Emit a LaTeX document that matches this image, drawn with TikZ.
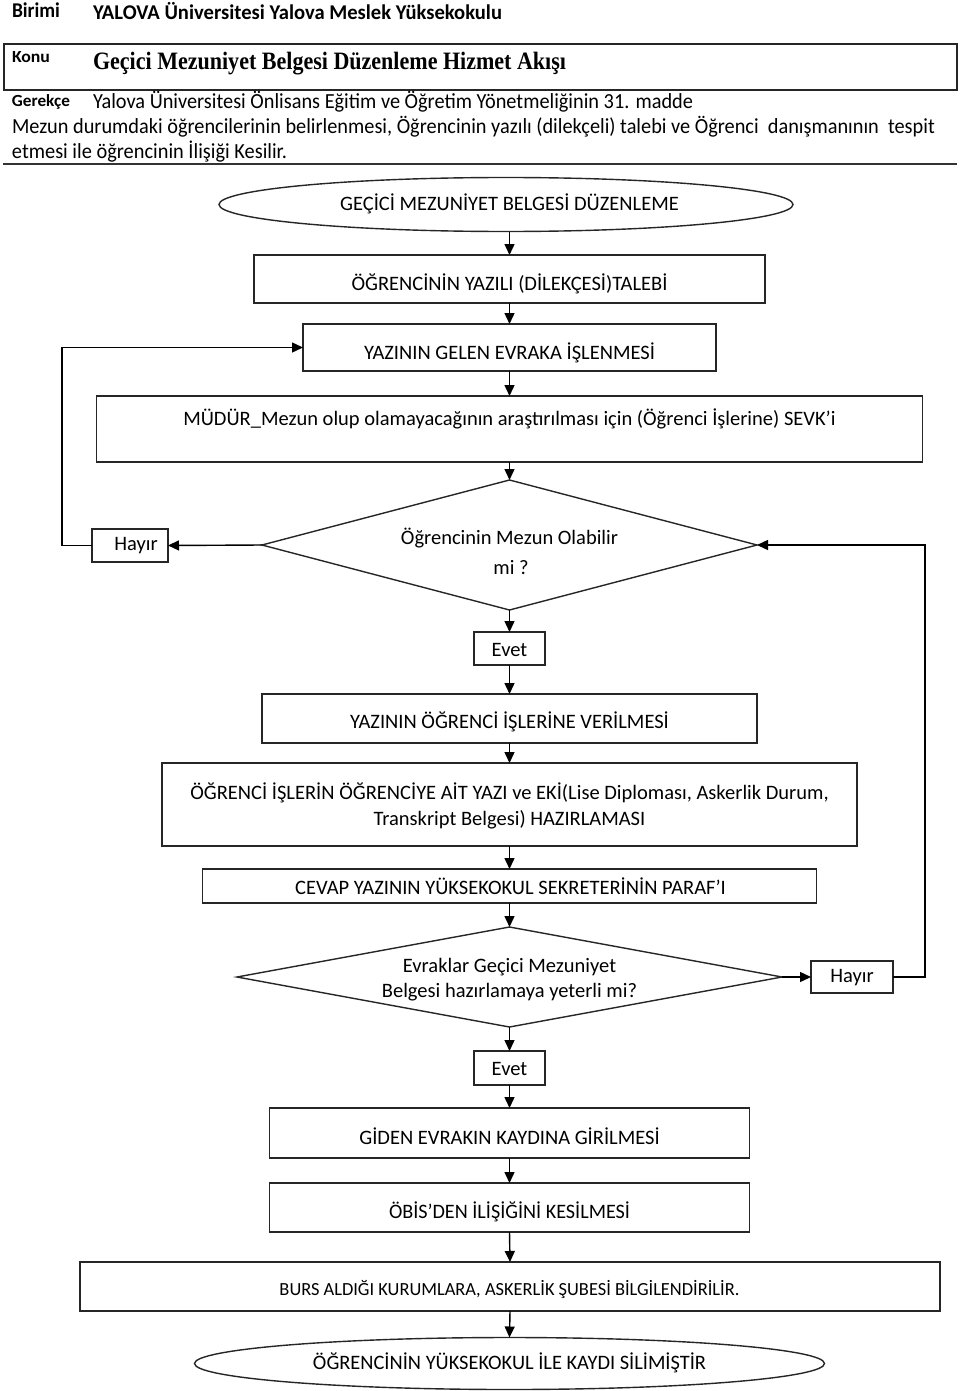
\documentclass[tikz,border=0pt]{standalone}
\usepackage{fontspec}
\usepackage{graphicx}
\setmainfont{Carlito}
\newfontfamily\titlefont{Liberation Serif}
\usetikzlibrary{shapes.geometric,arrows.meta}
\newcommand\fitw[2]{\resizebox{#1pt}{\height}{#2}}
\newcommand\fmain{\fontsize{20.5}{24}\selectfont}
\begin{document}
\begin{tikzpicture}[x=1pt,y=-1pt,
  every node/.style={inner sep=0pt,outer sep=0pt},
  box/.style={draw=black!85,line width=1.4pt,rectangle},
  term/.style={draw=black!85,line width=1.4pt,ellipse},
  dec/.style={draw=black!85,line width=1.4pt,diamond},
  txt/.style={font=\fmain,text=black},
  arr/.style={draw=black,line width=1.4pt,-{Triangle[length=11pt,width=10pt]}},
  plain/.style={draw=black,line width=1.4pt}]
\useasboundingbox (0,0) rectangle (960,1391);

% ---------- header ----------
\node[anchor=west] (birimi) at (12,10.5) {\fontsize{21}{24}\selectfont\bfseries\fitw{48}{Birimi}};
\node[anchor=west] (birimiv) at (93,11.5) {\fontsize{21}{24}\selectfont\bfseries\fitw{409}{YALOVA Üniversitesi Yalova Meslek Yüksekokulu}};
\node[box,line width=1.3pt,anchor=north west,minimum width=953,minimum height=46] (konubox) at (4,44) {};
\node[anchor=west] (konu) at (12,57) {\fontsize{17}{20}\selectfont\bfseries\fitw{38}{Konu}};
\node[anchor=west] (konuv) at (93,64) {\titlefont\bfseries\fontsize{25}{28}\selectfont\fitw{473}{Geçici Mezuniyet Belgesi Düzenleme Hizmet Akışı}};
\node[anchor=west] (gerekce) at (12,101.5) {\fontsize{17}{20}\selectfont\bfseries\fitw{58}{Gerekçe}};
\node[anchor=west] (ger1) at (93,102) {\fontsize{21.5}{24}\selectfont\fitw{600}{Yalova Üniversitesi Önlisans Eğitim ve Öğretim Yönetmeliğinin 31. madde}};
\node[anchor=west] (ger2) at (12,127) {\fontsize{21.5}{24}\selectfont\fitw{923}{Mezun durumdaki öğrencilerinin belirlenmesi, Öğrencinin yazılı (dilekçeli) talebi ve Öğrenci\ \ danışmanının\ \ tespit}};
\node[anchor=west] (ger3) at (12,152) {\fontsize{21.5}{24}\selectfont\fitw{275}{etmesi ile öğrencinin İlişiği Kesilir.}};
\coordinate (rl) at (3,164);
\coordinate (rr) at (957,164);
\draw[plain,line width=1.3pt,draw=black!80] (rl) -- (rr);

% ---------- flowchart shapes ----------
\node[term,minimum width=574,minimum height=54] (start) at (506,204.5) {};
\node[txt] (startt) at (509.5,204) {GEÇİCİ MEZUNİYET BELGESİ DÜZENLEME};

\node[box,minimum width=511,minimum height=48] (b1) at (509.5,279) {};
\node[txt] (b1t) at (509.5,284) {ÖĞRENCİNİN YAZILI (DİLEKÇESİ)TALEBİ};

\node[box,minimum width=413,minimum height=47] (b2) at (509.5,347.5) {};
\node[txt] (b2t) at (509.5,353) {YAZININ GELEN EVRAKA İŞLENMESİ};

\node[box,minimum width=826,minimum height=66] (b3) at (509.5,429) {};
\node[txt] (b3t) at (509.5,419) {MÜDÜR\_Mezun olup olamayacağının araştırılması için (Öğrenci İşlerine) SEVK’i};

\node[dec,minimum width=495,minimum height=130] (d1) at (509.5,545) {};
\node[txt] (d1ta) at (509.5,538) {Öğrencinin Mezun Olabilir};
\node[txt] (d1tb) at (511,568) {mi ?};

\node[box,minimum width=76,minimum height=33] (h1) at (130,545.5) {};
\node[txt] (h1t) at (136,546) {Hayır};

\node[box,minimum width=71,minimum height=33] (e1) at (509.5,648.5) {};
\node[txt] (e1t) at (509.5,650) {Evet};

\node[box,minimum width=495,minimum height=49] (b4) at (509.5,718.5) {};
\node[txt] (b4t) at (509.5,722) {YAZININ ÖĞRENCİ İŞLERİNE VERİLMESİ};

\node[box,minimum width=695,minimum height=83] (b5) at (509.5,804.5) {};
\node[txt] (b5ta) at (509.5,793) {ÖĞRENCİ İŞLERİN ÖĞRENCİYE AİT YAZI ve EKİ(Lise Diploması, Askerlik Durum,};
\node[txt] (b5tb) at (509.5,820) {Transkript Belgesi) HAZIRLAMASI};

\node[box,minimum width=614,minimum height=34] (b6) at (509.5,886) {};
\node[txt] (b6t) at (510.5,886) {CEVAP YAZININ YÜKSEKOKUL SEKRETERİNİN PARAF’I};

\node[dec,minimum width=545,minimum height=100] (d2) at (509.5,977) {};
\node[txt] (d2ta) at (509.5,967) {Evraklar Geçici Mezuniyet};
\node[txt] (d2tb) at (509.5,992) {Belgesi hazırlamaya yeterli mi?};

\node[box,minimum width=82,minimum height=32] (h2) at (852,977) {};
\node[txt] (h2t) at (852,978) {Hayır};

\node[box,minimum width=71,minimum height=34] (e2) at (509.5,1068) {};
\node[txt] (e2t) at (509.5,1069) {Evet};

\node[box,minimum width=480,minimum height=50] (b7) at (509.5,1133) {};
\node[txt] (b7t) at (509.5,1136) {GİDEN EVRAKIN KAYDINA GİRİLMESİ};

\node[box,minimum width=480,minimum height=49] (b8) at (509.5,1207.5) {};
\node[txt] (b8t) at (509.5,1212) {\fitw{241}{ÖBİS’DEN İLİŞİĞİNİ KESİLMESİ}};

\node[box,minimum width=860,minimum height=49] (b9) at (510,1286.5) {};
\node[txt] (b9t) at (509.5,1289) {\fontsize{18.5}{21}\selectfont\fitw{460}{BURS ALDIĞI KURUMLARA, ASKERLİK ŞUBESİ BİLGİLENDİRİLİR.}};

\node[term,minimum width=630,minimum height=52] (end) at (509.5,1363.5) {};
\node[txt] (endt) at (509.5,1363) {\fitw{393}{ÖĞRENCİNİN YÜKSEKOKUL İLE KAYDI SİLİMİŞTİR}};

% ---------- connectors ----------
\draw[arr] (start.south -| b1.north) -- (b1.north);
\draw[arr] (b1.south) -- (b2.north);
\draw[arr] (b2.south) -- (b3.north);
\draw[arr] (b3.south) -- (d1.north);
\draw[arr] (d1.south) -- (e1.north);
\draw[arr] (e1.south) -- (b4.north);
\draw[arr] (b4.south) -- (b5.north);
\draw[arr] (b5.south) -- (b6.north);
\draw[arr] (b6.south) -- (d2.north);
\draw[arr] (d2.south) -- (e2.north);
\draw[arr] (e2.south) -- (b7.north);
\draw[arr] (b7.south) -- (b8.north);
\draw[arr] (b8.south) -- (b9.north);
\draw[arr] (b9.south) -- (end.north);

\draw[arr] (d1.west) -- (h1.east);
\coordinate (lp) at (62,545.5);
\draw[arr] (h1.west) -- (lp) |- (b2.west);

\draw[arr] (d2.east) -- (h2.west);
\coordinate (rp) at (925,977);
\draw[arr] (h2.east) -- (rp) |- (d1.east);
\end{tikzpicture}
\end{document}
